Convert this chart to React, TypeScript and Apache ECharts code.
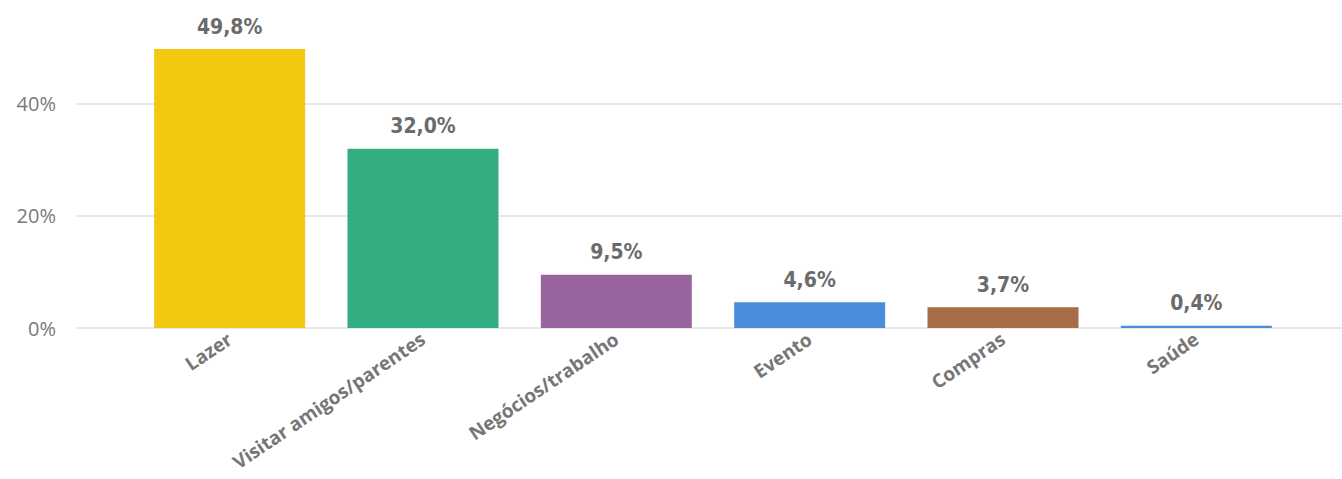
import React, { useEffect, useRef } from "react";
import * as echarts from "echarts";

const categories = ["Lazer", "Visitar amigos/parentes", "Negócios/trabalho", "Evento", "Compras", "Saúde"];
const values = [49.8, 32.0, 9.5, 4.6, 3.7, 0.4];
const barColors = ["#F2C811", "#33AE81", "#9A64A0", "#4A8DDC", "#A66D48", "#4A8DDC"];
const yTicks = [0, 20, 40];
const yMax = 58.57;

export default function App() {
  const ref = useRef<HTMLDivElement>(null);
  useEffect(() => {
    document.body.style.margin = "0";
    const chart = echarts.init(ref.current!, null, { renderer: "svg" });
    chart.setOption({
      animation: false,
      grid: [
        { left: 76, right: 0, top: 0, height: 328 },
        { left: 133, width: 1160, top: 0, height: 328 },
      ],
      xAxis: [
        { type: "value", gridIndex: 0, show: false, min: 0, max: 1 },
        {
          type: "category",
          gridIndex: 1,
          data: categories,
          axisLine: { show: false },
          axisTick: { show: false },
          axisLabel: {
            rotate: 34,
            margin: 9,
            interval: 0,
            color: "#767676",
            fontFamily: "Open Sans",
            fontWeight: "bold",
            fontSize: 19,
          },
        },
      ],
      yAxis: [
        {
          type: "value",
          gridIndex: 0,
          min: 0,
          max: yMax,
          interval: 20,
          axisLine: { show: false },
          axisTick: { show: false },
          splitLine: { showMaxLine: false, lineStyle: { color: "#e8e8e8", width: 2 } },
          axisLabel: {
            margin: 20,
            color: "#7a7a7a",
            fontFamily: "Open Sans",
            fontSize: 20,
            showMaxLabel: false,
            formatter: (v: number) => (yTicks.includes(v) ? v + "%" : ""),
          },
        },
        {
          type: "value",
          gridIndex: 1,
          min: 0,
          max: yMax,
          show: false,
          splitLine: { show: false },
        },
      ],
      series: [
        {
          type: "bar",
          xAxisIndex: 1,
          yAxisIndex: 1,
          barWidth: 151,
          data: values.map((v, i) => ({ value: v, itemStyle: { color: barColors[i] } })),
          label: {
            show: true,
            position: "top",
            distance: 12,
            color: "#6b6b6b",
            fontFamily: "DejaVu Sans Condensed, Roboto, sans-serif",
            fontWeight: "bold",
            fontSize: 21,
            formatter: (p: any) => p.value.toFixed(1).replace(".", ",") + "%",
          },
        },
      ],
    });
    return () => chart.dispose();
  }, []);
  return <div ref={ref} style={{ width: 1342, height: 479 }} />;
}
